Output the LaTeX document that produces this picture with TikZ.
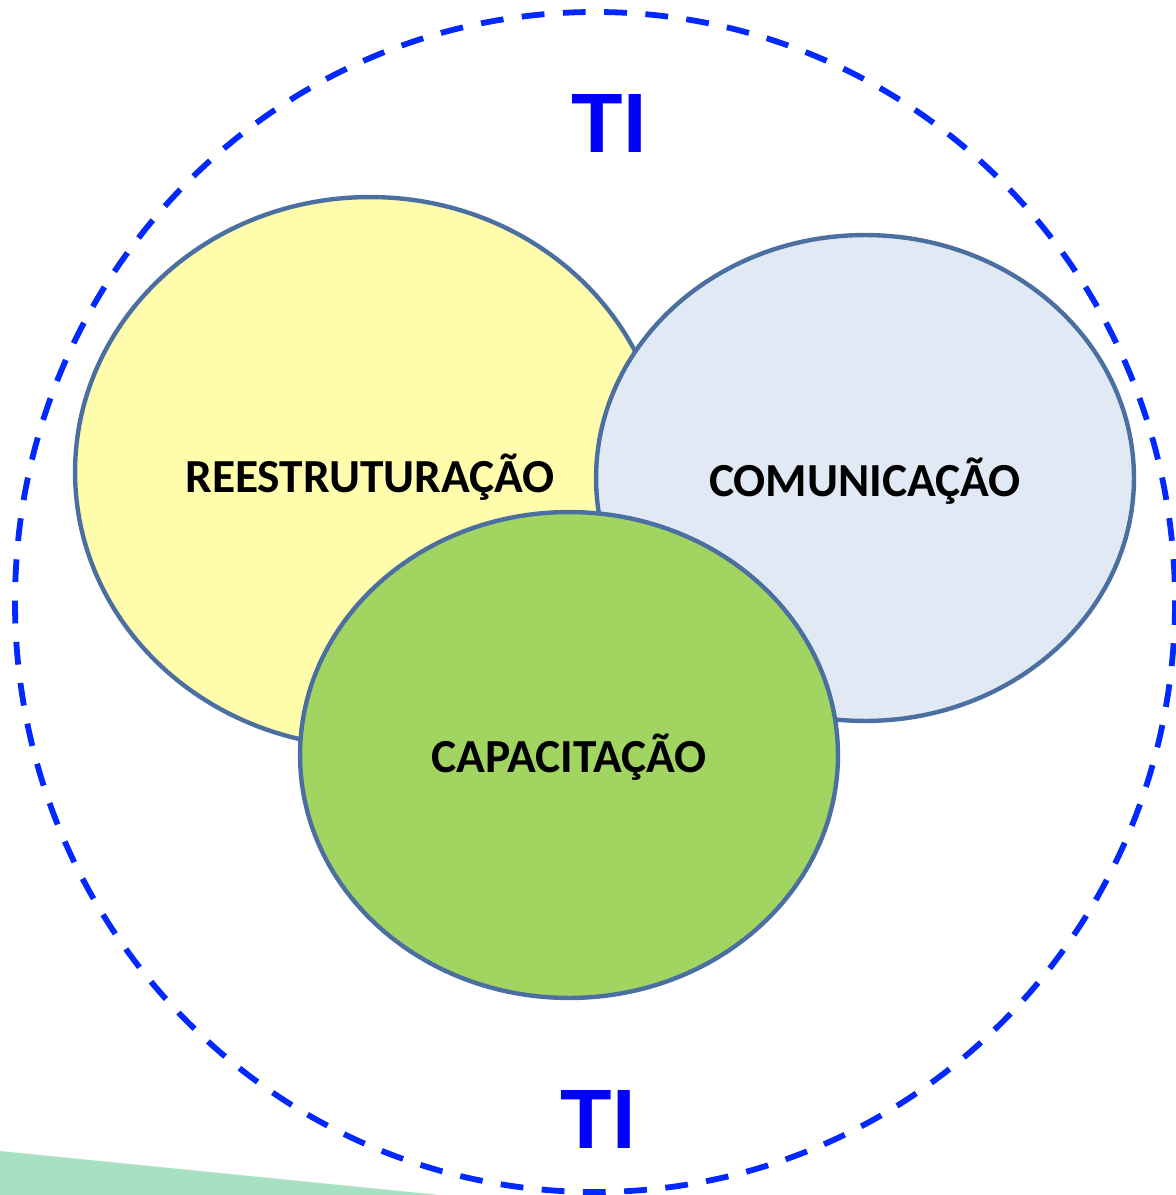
\documentclass[tikz,border=0pt]{standalone}
\usepackage{fontspec}
\setmainfont{Carlito}
\newfontfamily\tifont{Liberation Sans}
\usetikzlibrary{shapes.geometric}

\definecolor{rimblue}{RGB}{74,111,160}
\definecolor{tiblue}{RGB}{0,0,255}
\definecolor{ringblue}{RGB}{0,40,255}
\definecolor{reyellow}{RGB}{255,252,172}
\definecolor{coblue}{RGB}{224,233,244}
\definecolor{cagreen}{RGB}{162,212,98}
\definecolor{bandgreen}{RGB}{168,224,196}

\tikzset{
    blob/.style={ellipse, draw=rimblue, line width=2.5pt, inner sep=0pt,
        text depth=0cm, font=\fontsize{27}{32}\selectfont\bfseries},
    tilabel/.style={text=tiblue, font=\tifont\fontsize{48}{52}\selectfont\bfseries}
}

\begin{document}
\begin{tikzpicture}[x=0.02cm, y=-0.02cm]
        \useasboundingbox (0, 0) rectangle (1175, 1195);

        % band at the bottom
        \fill[bandgreen] (0, 1151) -- (440, 1195) -- (0, 1195) -- cycle;

        % outer dashed ring
        \draw[ringblue, line width=3.3pt, dash pattern=on 13pt off 10.5pt] (595, 602) ellipse [x radius=580, y radius=590];

        \node[blob, fill=reyellow, text height=0.81cm, minimum width=11.8cm, minimum height=11cm] (reest) at (370, 472) {REESTRUTURAÇÃO};
        \node[blob, fill=coblue, text height=0.73cm, minimum width=10.76cm, minimum height=9.72cm] (comun) at (865, 478) {COMUNICAÇÃO};
        \node[blob, fill=cagreen, text height=0.69cm, minimum width=10.76cm, minimum height=9.72cm] (capac) at (569, 755) {CAPACITAÇÃO};

        \node[tilabel] (tiTop) at (609, 123) {TI};
        \node[tilabel] (tiBot) at (598, 1119) {TI};
    \end{tikzpicture}
\end{document}
